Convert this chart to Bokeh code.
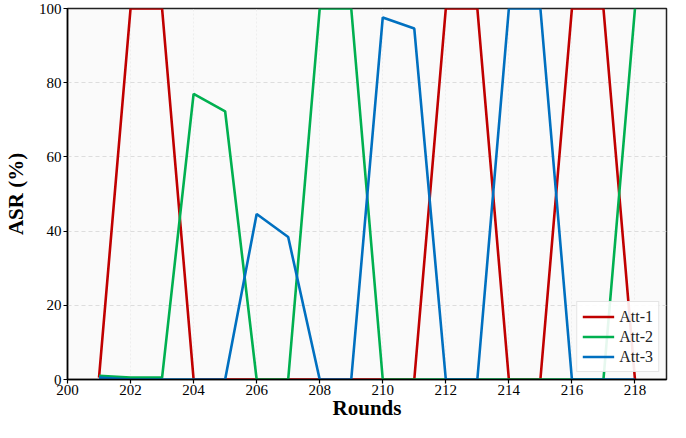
from bokeh.plotting import figure
from bokeh.models import ColumnDataSource, Legend, LegendItem, FixedTicker, Range1d
from bokeh.embed import file_html
from bokeh.resources import INLINE

rounds = [201, 202, 203, 204, 205, 206, 207, 208, 209, 210, 211, 212, 213, 214, 215, 216, 217, 218]
att1 = [0.5, 100, 100, 0, 0, 0, 0, 0, 0, 0, 0, 100, 100, 0, 0, 100, 100, 0]
att2 = [1.0, 0.5, 0.5, 77.0, 72.3, 0, 0, 100, 100, 0, 0, 0, 0, 0, 0, 0, 0, 100]
att3 = [0.5, 0, 0, 0, 0, 44.6, 38.4, 0, 0, 97.6, 94.6, 0, 0, 100, 100, 0, 0, 0]
series_names = ["Att-1", "Att-2", "Att-3"]
series_colors = ["#C00000", "#00B050", "#0070C0"]
x_ticks = [200, 202, 204, 206, 208, 210, 212, 214, 216, 218]
y_ticks = [0, 20, 40, 60, 80, 100]

FONT = "Liberation Serif"

p = figure(width=670, height=422, output_backend="svg", toolbar_location=None,
           x_range=Range1d(200, 219), y_range=Range1d(0, 100),
           min_border_left=60, min_border_right=4, min_border_top=8, min_border_bottom=0)
p.background_fill_color = "#fafafa"
p.border_fill_color = "white"
p.outline_line_color = "#222222"
p.outline_line_width = 1.5

src = ColumnDataSource(dict(x=rounds, a1=att1, a2=att2, a3=att3))
renderers = []
for col, name, color in zip(["a1", "a2", "a3"], series_names, series_colors):
    r = p.line("x", col, source=src, line_color=color, line_width=2.6)
    renderers.append((name, r))

legend = Legend(items=[LegendItem(label=n, renderers=[r]) for n, r in renderers],
                location="bottom_right")
legend.label_text_font = FONT
legend.label_text_font_size = "16px"
legend.label_text_color = "#222222"
legend.glyph_width = 32
legend.glyph_height = 19
legend.label_height = 19
legend.spacing = 1
legend.padding = 5
legend.margin = 7
legend.border_line_color = "#cccccc"
legend.border_line_width = 1
legend.background_fill_color = "white"
legend.background_fill_alpha = 0.9
p.add_layout(legend)

for ax in (p.xaxis, p.yaxis):
    ax.axis_line_color = "black"
    ax.axis_line_width = 1.5
    ax.major_tick_line_color = "black"
    ax.major_tick_line_width = 1.2
    ax.major_tick_out = 4
    ax.major_tick_in = 0
    ax.minor_tick_line_color = None
    ax.major_label_text_font = FONT
    ax.major_label_text_font_size = "15px"
    ax.major_label_text_color = "black"
    ax.major_label_text_line_height = 1.0
    ax.axis_label_text_font = FONT
    ax.axis_label_text_font_style = "bold"
    ax.axis_label_text_font_size = "21px"
    ax.axis_label_text_color = "black"
    ax.axis_label_text_line_height = 1.0

p.xaxis.ticker = FixedTicker(ticks=x_ticks)
p.yaxis.ticker = FixedTicker(ticks=y_ticks)
p.xaxis.axis_label = "Rounds"
p.yaxis.axis_label = "ASR (%)"
p.xaxis.major_label_standoff = 1
p.xaxis.axis_label_standoff = -2
p.yaxis.major_label_standoff = 2
p.yaxis.axis_label_standoff = 8

p.ygrid.grid_line_color = "#dddddd"
p.ygrid.grid_line_dash = "4 3"
p.ygrid.grid_line_width = 1
p.xgrid.grid_line_color = "#eeeeee"
p.xgrid.grid_line_dash = "2 2"
p.xgrid.grid_line_width = 1

open("out.html", "w").write(file_html(p, INLINE))
